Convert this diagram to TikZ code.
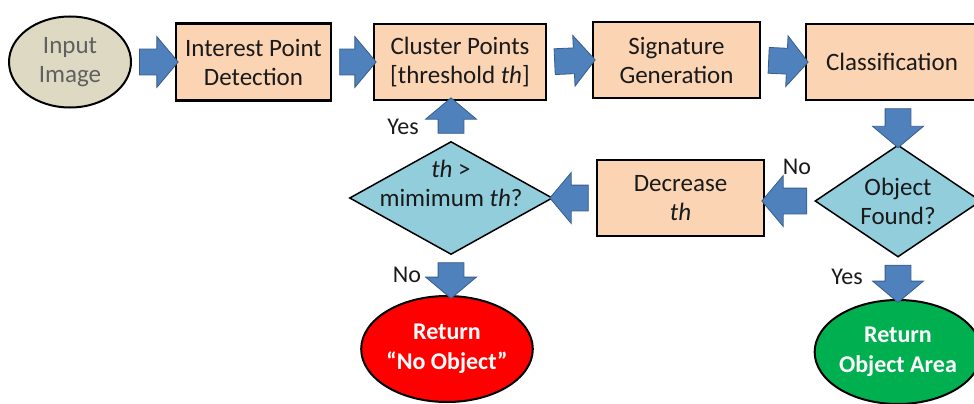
\documentclass[tikz,border=0pt]{standalone}
\usepackage{fontspec}
\setmainfont{Carlito}
\usetikzlibrary{shapes,arrows,calc}

\definecolor{peach}{HTML}{FBD4B4}
\definecolor{aqua}{HTML}{92CDDC}
\definecolor{beige}{HTML}{DDD9C3}
\definecolor{arrowblue}{HTML}{4F81BD}
\definecolor{arrowedge}{HTML}{385D8A}
\definecolor{okgreen}{HTML}{00B050}
\definecolor{inktext}{HTML}{1A1A1A}

\newcommand{\flowfont}{\fontsize{25}{29}\selectfont}
\newcommand{\resultfont}{\fontsize{24}{30}\selectfont\bfseries}

\tikzset{
  procbox/.style={shape=rectangle, draw, line width=2.5pt, fill=peach, align=center, inner sep=0pt, text=inktext},
  decision/.style={shape=diamond, draw, line width=1.5pt, fill=aqua, align=center, inner xsep=-20pt, inner ysep=-15pt, aspect=1.6, text=inktext},
  terminal/.style={shape=ellipse, draw, line width=2pt, align=center, inner sep=0pt},
  fatarrow/.style={shape=single arrow, draw=arrowedge, fill=arrowblue, line width=0.8pt, minimum width=50pt, single arrow head extend=12.5pt, single arrow tip angle=100, inner xsep=0pt, inner ysep=12.5pt},
  branch/.style={inner sep=0pt, text=inktext, font=\fontsize{24}{29}\selectfont}
}

% block arrow between two points, a little shorter than the gap
\newcommand{\blockarrow}[2]{%
  \path let \p1=(#1), \p2=(#2), \n1={atan2(\y2-\y1,\x2-\x1)}, \n2={veclen(\x2-\x1,\y2-\y1)-4} in
    node [fatarrow, minimum height=\n2, rotate=\n1] at ($(\p1)!0.5!(\p2)$) {};}

\begin{document}
\begin{tikzpicture}[x=1pt, y=-1pt, font=\flowfont]
\useasboundingbox (0,0) rectangle (974,404);
\clip (0,0) rectangle (974,404);

% top row
\node (input) at (70,62) [terminal, fill=beige, text=gray!75!black, minimum width=122, minimum height=91]{Input\\Image};
\node (detect) at (253.5,62) [procbox, minimum width=155, minimum height=77]{Interest Point\\Detection};
\node (cluster) at (460,62) [procbox, minimum width=172, minimum height=76]{Cluster Points\\{[threshold \textit{th}]}};
\node (signature) at (676.5,60) [procbox, minimum width=167, minimum height=76]{Signature\\Generation};
\node (classify) at (892,62) [procbox, minimum width=172, minimum height=76]{Classification};

% lower row
\node (found) at (898,201) [decision, minimum width=166, minimum height=112]{Object\\Found?};
\node (decrease) at (680.5,198) [procbox, minimum width=167, minimum height=76]{Decrease\\\textit{th}};
\node (thcheck) at (451,198) [decision, minimum width=203, minimum height=113]{\textit{th} >\\mimimum \textit{th}?\\\mbox{}};

% results
\node (noobject) at (447,349) [terminal, fill=red, text=white, font=\resultfont, minimum width=138, minimum height=106]{Return\\“No Object”};
\node (objarea) at (898,352) [terminal, fill=okgreen, text=white, font=\resultfont, minimum width=138, minimum height=104]{Return\\Object Area};

% branch labels
\node (yesup) at (403,127) [branch]{Yes};
\node (nofound) at (797,167) [branch]{No};
\node (nomin) at (407,275) [branch]{No};
\node (yesfound) at (847,277) [branch]{Yes};

\blockarrow{input.east}{detect.west}
\blockarrow{detect.east}{cluster.west}
\blockarrow{cluster.east}{signature.west}
\blockarrow{signature.east}{classify.west}
\blockarrow{found.north |- classify.south}{found.north}
\blockarrow{found.west}{found.west -| decrease.east}
\blockarrow{decrease.west}{thcheck.east}
\blockarrow{thcheck.north}{thcheck.north |- cluster.south}
\blockarrow{thcheck.south}{thcheck.south |- noobject.north}
\blockarrow{found.south}{objarea.north}
\end{tikzpicture}
\end{document}
